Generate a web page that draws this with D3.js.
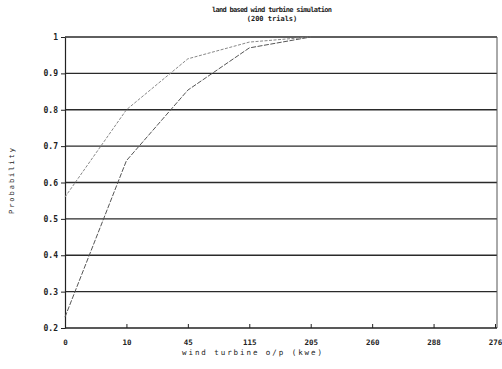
<!DOCTYPE html>
<html>
<head>
<meta charset="utf-8">
<script src="https://cdn.jsdelivr.net/npm/d3@7"></script>
<style>
  body { margin: 0; background: #fff; }
  text { font-family: "DejaVu Sans Mono", monospace; fill: #222; }
  .axis path, .axis line { stroke: #222; }
</style>
</head>
<body>
<script>
// x categories (wind turbine output, kwe) as printed on the axis
var categories = ["0", "10", "45", "115", "205", "260", "288", "276"];
// two cumulative probability curves (end at 205)
var seriesUpper = [0.56, 0.80, 0.94, 0.986, 1.0];
var seriesLower = [0.23, 0.66, 0.854, 0.97, 1.0];
var yTicks = [0.2, 0.3, 0.4, 0.5, 0.6, 0.7, 0.8, 0.9, 1];

var width = 502, height = 369;

var svg = d3.select("body").append("svg")
    .attr("width", width)
    .attr("height", height);

// setup x
var xScale = d3.scalePoint().domain(categories).range([65, 495]);
// setup y
var yScale = d3.scaleLinear().domain([0.2, 1]).range([328, 37]);

// gridlines
svg.append("g").selectAll("line")
    .data(yTicks.slice(1))
    .enter().append("line")
    .attr("x1", 65)
    .attr("x2", 497)
    .attr("y1", function (d) { return yScale(d); })
    .attr("y2", function (d) { return yScale(d); })
    .attr("stroke", "#2a2a2a")
    .attr("stroke-width", 1.4);

// right border
svg.append("line")
    .attr("x1", 497).attr("x2", 497)
    .attr("y1", yScale(1)).attr("y2", yScale(0.2))
    .attr("stroke", "#555")
    .attr("stroke-width", 1);

// y axis
var yAxis = d3.axisLeft(yScale)
    .tickValues(yTicks)
    .tickSizeInner(4)
    .tickSizeOuter(0)
    .tickFormat(function (d) { return d === 1 ? "1" : d3.format(".1f")(d); });

svg.append("g")
    .attr("class", "axis")
    .attr("transform", "translate(65,0)")
    .call(yAxis)
    .call(function (g) {
        g.selectAll("text").attr("font-size", 8).attr("font-weight", "bold").attr("x", -7);
        g.select(".domain").attr("stroke-width", 1.2);
    });

// x axis
var xAxis = d3.axisBottom(xScale).tickSizeInner(-4).tickSizeOuter(0);

svg.append("g")
    .attr("class", "axis")
    .attr("transform", "translate(0," + yScale(0.2) + ")")
    .call(xAxis)
    .call(function (g) {
        g.selectAll("text").attr("font-size", 7.5).attr("font-weight", "bold").attr("y", 12);
        g.select(".domain").attr("stroke-width", 1.4).attr("d", "M65,0H497");
    });

// lines
var line = d3.line()
    .x(function (d, i) { return xScale(categories[i]); })
    .y(function (d) { return yScale(d); });

svg.append("path")
    .datum(seriesUpper)
    .attr("fill", "none")
    .attr("stroke", "#888")
    .attr("stroke-width", 1)
    .attr("stroke-dasharray", "3,1.5")
    .attr("d", line);

svg.append("path")
    .datum(seriesLower)
    .attr("fill", "none")
    .attr("stroke", "#555")
    .attr("stroke-width", 1)
    .attr("stroke-dasharray", "5,1.5")
    .attr("d", line);

// title
svg.append("text")
    .attr("x", 272).attr("y", 12)
    .attr("text-anchor", "middle")
    .attr("font-size", 7)
    .attr("font-weight", "bold")
    .attr("textLength", 120)
    .text("land based wind turbine simulation");

svg.append("text")
    .attr("x", 272).attr("y", 21)
    .attr("text-anchor", "middle")
    .attr("font-size", 7)
    .attr("font-weight", "bold")
    .text("(200 trials)");

// axis labels
svg.append("text")
    .attr("x", 252).attr("y", 355)
    .attr("text-anchor", "middle")
    .attr("font-size", 7.5)
    .attr("textLength", 140)
    .text("wind turbine o/p (kwe)");

svg.append("text")
    .attr("transform", "translate(14,181) rotate(-90)")
    .attr("text-anchor", "middle")
    .attr("font-size", 7)
    .attr("fill", "#777")
    .attr("textLength", 66)
    .text("Probability");
</script>
</body>
</html>
